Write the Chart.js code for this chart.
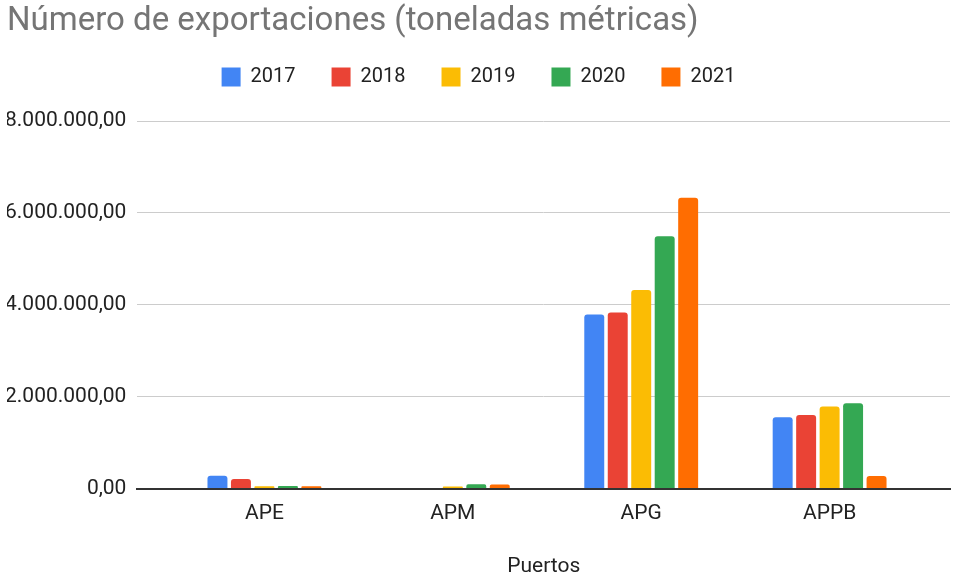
<!DOCTYPE html>
<html>
<head>
<meta charset="utf-8">
<script src="https://cdn.jsdelivr.net/npm/chart.js@4"></script>
<style>
  html, body { margin: 0; padding: 0; background: #fff; }
  #wrap { width: 957px; height: 579px; position: relative; }
</style>
</head>
<body>
<div id="wrap"><canvas id="chart"></canvas></div>
<script>
  // Datos
  var puertos = ["APE", "APM", "APG", "APPB"];
  var anios = ["2017", "2018", "2019", "2020", "2021"];
  var colores = ["#4285f4", "#ea4335", "#fbbc04", "#34a853", "#ff6d01"];
  var valores2017 = [280000, 0, 3790000, 1555000];
  var valores2018 = [210000, 0, 3830000, 1600000];
  var valores2019 = [50000, 45000, 4320000, 1785000];
  var valores2020 = [55000, 95000, 5490000, 1860000];
  var valores2021 = [50000, 90000, 6330000, 275000];
  var yTicks = [0, 2000000, 4000000, 6000000, 8000000];

  var series = [valores2017, valores2018, valores2019, valores2020, valores2021];

  function formato(v) {
    var s = Math.round(v).toString().replace(/\B(?=(\d{3})+(?!\d))/g, ".");
    return s + ",00";
  }

  // eje x lineal para dejar margen a los lados como en Sheets
  var datasets = [];
  for (var i = 0; i < anios.length; i++) {
    datasets.push({
      label: anios[i],
      data: series[i].map(function(v, k) { return { x: k, y: v }; }),
      backgroundColor: colores[i],
      borderRadius: 3,
      borderSkipped: "bottom",
      barPercentage: 0.85,
      categoryPercentage: 0.623
    });
  }

  Chart.defaults.font.family = "Roboto, 'Liberation Sans', sans-serif";
  Chart.defaults.color = "#222";

  new Chart(document.getElementById("chart"), {
    type: "bar",
    data: { datasets: datasets },
    options: {
      responsive: true,
      maintainAspectRatio: false,
      animation: false,
      layout: { padding: { left: 7, right: 7, top: 5, bottom: 0 } },
      plugins: {
        title: {
          display: true,
          text: "Número de exportaciones (toneladas métricas)",
          align: "start",
          color: "#757575",
          font: { size: 33, weight: "normal", lineHeight: 1 },
          padding: { top: 0, bottom: -7 }
        },
        // hueco vacio entre la leyenda y el grafico
        subtitle: {
          display: true,
          text: " ",
          weight: 500,
          font: { size: 1, lineHeight: 1 },
          padding: { top: 0, bottom: 23 }
        },
        legend: {
          position: "top",
          labels: {
            boxWidth: 19,
            boxHeight: 19,
            padding: 36,
            font: { size: 20 },
            color: "#222"
          }
        },
        tooltip: { enabled: false }
      },
      scales: {
        x: {
          type: "linear",
          min: -0.674,
          max: 3.639,
          offset: false,
          afterBuildTicks: function(axis) {
            axis.ticks = puertos.map(function(p, k) { return { value: k }; });
          },
          grid: { display: false, drawTicks: false },
          border: { color: "#333", width: 2 },
          ticks: {
            font: { size: 21 },
            color: "#222",
            padding: 13,
            callback: function(v) { return puertos[v]; }
          },
          title: {
            display: true,
            text: "Puertos",
            font: { size: 21 },
            color: "#222",
            padding: { top: 14, bottom: 0 }
          }
        },
        y: {
          min: 0,
          max: 8000000,
          afterBuildTicks: function(axis) {
            axis.ticks = yTicks.map(function(v) { return { value: v }; });
          },
          afterFit: function(axis) {
            axis.width = axis.width - 13;
          },
          grid: { color: "#cccccc", drawTicks: false },
          border: { display: false },
          ticks: {
            font: { size: 21 },
            color: "#222",
            padding: 11,
            callback: function(v) { return formato(v); }
          }
        }
      }
    }
  });
</script>
</body>
</html>
